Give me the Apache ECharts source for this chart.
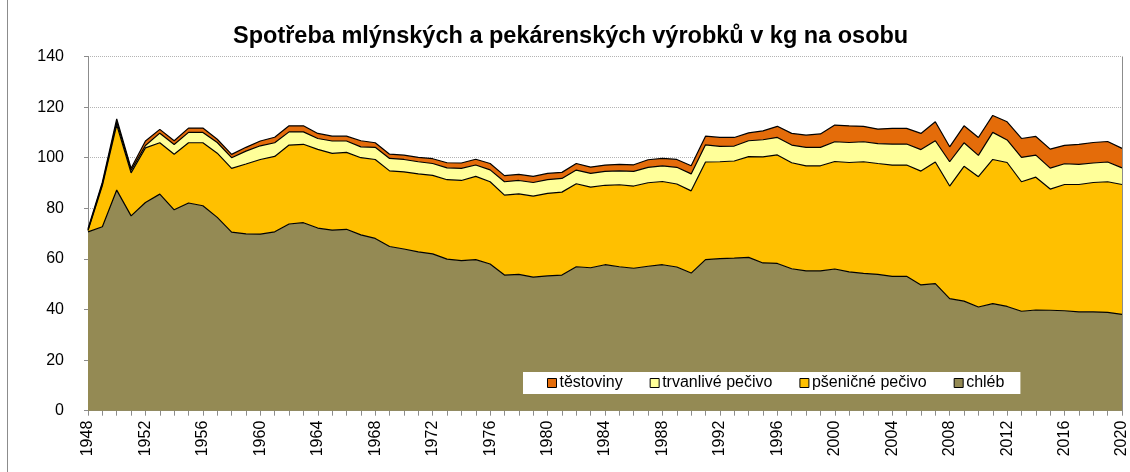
<!DOCTYPE html>
<html>
<head>
<meta charset="utf-8">
<title>Spotřeba mlýnských a pekárenských výrobků</title>
<script src="https://cdn.jsdelivr.net/npm/echarts@6/dist/echarts.min.js"></script>
<style>
    html, body { margin: 0; padding: 0; background: #fff; }
    #chart { width: 1130px; height: 472px; }
</style>
</head>
<body>
<div id="chart"></div>
<script>
// roky 1948 - 2020
const years = [];
for (let y = 1948; y <= 2020; y++) years.push(String(y));

// kg na osobu
const chleb = [
    70.7, 72.7, 87.2, 77.0, 82.3, 85.6, 79.4, 82.1, 81.0, 76.4,
    70.6, 69.9, 69.8, 70.7, 73.8, 74.3, 72.2, 71.4, 71.7, 69.5,
    68.1, 64.9, 63.9, 62.8, 62.0, 59.9, 59.3, 59.7, 58.0, 53.6,
    53.9, 52.8, 53.3, 53.6, 56.9, 56.5, 57.7, 56.9, 56.3, 57.1,
    57.7, 56.8, 54.4, 59.7, 60.1, 60.3, 60.6, 58.4, 58.2, 56.1,
    55.3, 55.3, 56.0, 54.9, 54.3, 53.9, 53.1, 53.1, 49.7, 50.2,
    44.3, 43.3, 41.0, 42.3, 41.2, 39.3, 39.8, 39.7, 39.5, 39.1,
    39.1, 38.9, 38.1
];
const psenicnePecivo = [
    0.5, 16.3, 25.8, 17.0, 21.6, 20.3, 22.0, 23.8, 24.9, 25.4,
    25.2, 27.6, 29.5, 29.8, 31.2, 31.0, 31.1, 30.3, 30.4, 30.5,
    31.2, 29.9, 30.5, 30.8, 31.0, 31.4, 31.7, 32.9, 32.5, 31.6,
    31.8, 32.0, 32.6, 32.8, 32.8, 31.9, 31.4, 32.4, 32.5, 33.0,
    32.9, 32.8, 32.5, 38.6, 38.3, 38.4, 39.8, 41.9, 42.9, 41.9,
    41.5, 41.5, 42.5, 43.2, 44.1, 43.8, 44.0, 44.0, 45.0, 48.1,
    44.5, 53.3, 51.5, 57.0, 56.9, 51.2, 52.5, 47.9, 49.9, 50.3,
    51.1, 51.6, 51.3
];
const trvanlivePecivo = [
    0.3, 0.6, 1.2, 1.0, 0.9, 3.8, 3.8, 4.1, 4.1, 4.2,
    4.2, 5.1, 5.4, 5.4, 5.2, 4.9, 4.3, 4.9, 4.5, 4.3,
    4.8, 4.9, 4.9, 4.8, 4.7, 4.7, 4.8, 4.5, 4.7, 5.3,
    5.3, 5.4, 5.4, 5.4, 5.4, 5.4, 5.5, 5.5, 5.8, 6.1,
    6.2, 6.6, 6.7, 6.8, 6.1, 5.9, 6.3, 6.8, 6.9, 7.0,
    7.3, 7.3, 7.8, 7.9, 7.9, 7.9, 8.3, 8.3, 8.5, 8.4,
    9.6, 9.3, 8.4, 10.7, 8.9, 9.6, 8.7, 8.3, 8.2, 8.0,
    7.7, 7.8, 6.6
];
const testoviny = [
    0.4, 0.7, 1.1, 0.8, 1.8, 1.5, 1.5, 1.7, 1.7, 1.3,
    1.3, 1.5, 1.9, 2.2, 2.4, 2.4, 2.0, 1.9, 1.9, 2.4,
    1.8, 1.7, 1.7, 1.7, 1.9, 2.0, 2.1, 2.3, 2.5, 2.4,
    2.4, 2.4, 2.5, 2.4, 2.6, 2.5, 2.5, 2.6, 2.6, 3.0,
    2.9, 3.1, 3.2, 3.4, 3.5, 3.4, 3.1, 3.5, 4.4, 4.6,
    4.8, 5.3, 6.6, 6.6, 6.1, 5.7, 6.2, 6.2, 6.4, 7.5,
    5.9, 6.7, 7.1, 6.7, 7.2, 7.5, 7.4, 7.5, 7.3, 7.9,
    8.1, 8.1, 7.7
];

const legendOrder = ['těstoviny', 'trvanlivé pečivo', 'pšeničné pečivo', 'chléb'];

const fontFamily = '"Liberation Sans", Arial, sans-serif';

// jedna vrstva skládaného plošného grafu
const makeLayer = (name, data, color) => ({
    name: name,
    type: 'line',
    stack: 'total',
    data: data,
    symbol: 'none',
    showSymbol: false,
    itemStyle: { color: color },
    lineStyle: { color: '#000', width: 1.2 },
    areaStyle: { color: color, opacity: 1 },
    emphasis: { disabled: true },
});

const chart = echarts.init(document.getElementById('chart'), null, { renderer: 'canvas' });

const option = {
    animation: false,
    backgroundColor: '#fff',
    textStyle: { fontFamily: fontFamily },
    title: {
        text: 'Spotřeba mlýnských a pekárenských výrobků v kg na osobu',
        left: 233,
        top: 25,
        padding: 0,
        textStyle: { fontFamily: fontFamily, fontSize: 23.5, fontWeight: 'bold', color: '#000' },
    },
    grid: { left: 88, right: 7.5, top: 56.5, bottom: 61.3, containLabel: false },
    legend: {
        data: legendOrder,
        left: 523,
        top: 372,
        orient: 'horizontal',
        backgroundColor: '#fff',
        padding: [3, 16, 3, 24],
        itemGap: 27,
        itemWidth: 9,
        itemHeight: 9,
        icon: 'rect',
        itemStyle: { borderColor: '#000', borderWidth: 1 },
        textStyle: { fontFamily: fontFamily, fontSize: 16, color: '#000', padding: [0, 0, 0, -2] },
        selectedMode: false,
    },
    xAxis: {
        type: 'category',
        data: years,
        boundaryGap: false,
        axisLine: { show: true, lineStyle: { color: '#8c8c8c', width: 1 } },
        axisTick: { show: true, interval: 0, length: 5, lineStyle: { color: '#8c8c8c' } },
        axisLabel: {
            interval: 3,
            rotate: 90,
            margin: 10,
            fontSize: 16,
            color: '#000',
            fontFamily: fontFamily,
        },
        splitLine: { show: false },
    },
    yAxis: {
        type: 'value',
        min: 0,
        max: 140,
        interval: 20,
        axisLine: { show: true, lineStyle: { color: '#8c8c8c', width: 1 } },
        axisTick: { show: true, length: 4, lineStyle: { color: '#8c8c8c' } },
        axisLabel: { fontSize: 16, color: '#000', margin: 24, fontFamily: fontFamily },
        splitLine: { show: true, lineStyle: { color: '#b4b4b4', type: 'dotted', width: 1 } },
    },
    graphic: [
        // rámeček grafu vlevo
        { type: 'line', shape: { x1: 7.5, y1: 0, x2: 7.5, y2: 472 }, style: { stroke: '#8c8c8c', lineWidth: 1 }, z: 10 },
        // pravý okraj plochy grafu
        { type: 'line', shape: { x1: 1122.5, y1: 56.5, x2: 1122.5, y2: 411 }, style: { stroke: '#8c8c8c', lineWidth: 1 }, z: 10 },
    ],
    series: [
        makeLayer('chléb', chleb, '#948A54'),
        makeLayer('pšeničné pečivo', psenicnePecivo, '#FFC000'),
        makeLayer('trvanlivé pečivo', trvanlivePecivo, '#FFFF99'),
        makeLayer('těstoviny', testoviny, '#E46C0A'),
    ],
};

chart.setOption(option);
</script>
</body>
</html>
